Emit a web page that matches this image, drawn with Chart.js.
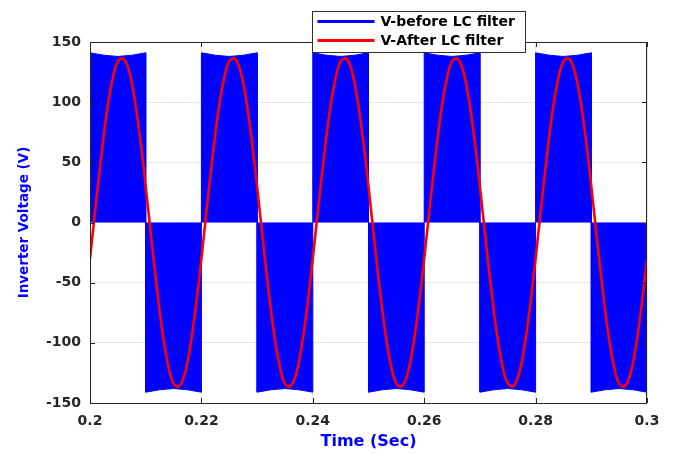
<!DOCTYPE html>
<html>
<head>
<meta charset="utf-8">
<script src="https://cdn.jsdelivr.net/npm/chart.js@4.4.0/dist/chart.umd.min.js"></script>
<style>
    html, body { margin: 0; padding: 0; background: #ffffff; }
    canvas { display: block; }
</style>
</head>
<body>
<canvas id="grafico" width="677" height="453"></canvas>
<script>
// Datos
const serieNombres = ['V-before LC filter', 'V-After LC filter'];

// Envolvente de la señal PWM (antes del filtro): tiempos y valores
const tiempoPWM = [
    0.200, 0.200, 0.2025, 0.205, 0.2075, 0.210,
    0.210, 0.2125, 0.215, 0.2175, 0.220,
    0.220, 0.2225, 0.225, 0.2275, 0.230,
    0.230, 0.2325, 0.235, 0.2375, 0.240,
    0.240, 0.2425, 0.245, 0.2475, 0.250,
    0.250, 0.2525, 0.255, 0.2575, 0.260,
    0.260, 0.2625, 0.265, 0.2675, 0.270,
    0.270, 0.2725, 0.275, 0.2775, 0.280,
    0.280, 0.2825, 0.285, 0.2875, 0.290,
    0.290, 0.2925, 0.295, 0.2975, 0.300, 0.300
];
const voltajePWM = [
    0, 141, 139, 138, 139, 141,
    -141, -139, -138, -139, -141,
    141, 139, 138, 139, 141,
    -141, -139, -138, -139, -141,
    141, 139, 138, 139, 141,
    -141, -139, -138, -139, -141,
    141, 139, 138, 139, 141,
    -141, -139, -138, -139, -141,
    141, 139, 138, 139, 141,
    -141, -139, -138, -139, -141, 0
];

// Tensión después del filtro LC, una muestra cada 1 ms desde 0.2 s
const tiempoInicio = 0.2;
const pasoTiempo = 0.001;
const voltajeFiltrado = [
    -30, 13, 54, 91, 118, 134, 136, 126, 103, 70,
    30, -13, -54, -91, -118, -134, -136, -126, -103, -70,
    -30, 13, 54, 91, 118, 134, 136, 126, 103, 70,
    30, -13, -54, -91, -118, -134, -136, -126, -103, -70,
    -30, 13, 54, 91, 118, 134, 136, 126, 103, 70,
    30, -13, -54, -91, -118, -134, -136, -126, -103, -70,
    -30, 13, 54, 91, 118, 134, 136, 126, 103, 70,
    30, -13, -54, -91, -118, -134, -136, -126, -103, -70,
    -30, 13, 54, 91, 118, 134, 136, 126, 103, 70,
    30, -13, -54, -91, -118, -134, -136, -126, -103, -70,
    -30
];

// Marcas de los ejes
const ticksX = [0.2, 0.22, 0.24, 0.26, 0.28, 0.3];
const etiquetasX = ['0.2', '0.22', '0.24', '0.26', '0.28', '0.3'];
const ticksY = [-150, -100, -50, 0, 50, 100, 150];
const etiquetasY = ['-150', '-100', '-50', '0', '50', '100', '150'];

const puntosPWM = tiempoPWM.map((t, i) => ({ x: t, y: voltajePWM[i] }));
const puntosFiltro = voltajeFiltrado.map((v, i) => ({ x: tiempoInicio + i * pasoTiempo, y: v }));

const colorEje = '#262626';
const fuente = 'DejaVu Sans';

// Caja del gráfico con marcas hacia dentro y leyenda estilo MATLAB
const marcoYLeyenda = {
    id: 'marcoYLeyenda',
    afterDatasetsDraw(chart) {
        const { ctx, chartArea: ca, scales } = chart;
        ctx.save();
        ctx.strokeStyle = colorEje;
        ctx.lineWidth = 1;
        ctx.strokeRect(ca.left + 0.5, ca.top + 0.5, ca.right - ca.left - 1, ca.bottom - ca.top);

        // marcas hacia dentro
        ctx.beginPath();
        ticksX.forEach((v) => {
            const px = Math.round(scales.x.getPixelForValue(v)) + 0.5;
            ctx.moveTo(px, ca.bottom); ctx.lineTo(px, ca.bottom - 5);
            ctx.moveTo(px, ca.top); ctx.lineTo(px, ca.top + 5);
        });
        ticksY.forEach((v) => {
            const py = Math.round(scales.y.getPixelForValue(v)) + 0.5;
            ctx.moveTo(ca.left, py); ctx.lineTo(ca.left + 5, py);
            ctx.moveTo(ca.right, py); ctx.lineTo(ca.right - 5, py);
        });
        ctx.stroke();

        // leyenda
        const bx = 312.5, by = 11.5, bw = 213, bh = 41;
        ctx.fillStyle = '#ffffff';
        ctx.fillRect(bx, by, bw, bh);
        ctx.strokeStyle = '#303030';
        ctx.strokeRect(bx, by, bw, bh);
        ctx.font = 'bold 14px "' + fuente + '"';
        ctx.textBaseline = 'middle';
        chart.data.datasets.forEach((ds, i) => {
            const y = by + 10 + i * 19;
            ctx.strokeStyle = ds.borderColor;
            ctx.lineWidth = 3;
            ctx.beginPath();
            ctx.moveTo(bx + 5, y);
            ctx.lineTo(bx + 62, y);
            ctx.stroke();
            ctx.fillStyle = '#000000';
            ctx.fillText(ds.label, bx + 68, y + 1);
        });
        ctx.restore();
    }
};

const ctxGrafico = document.getElementById('grafico').getContext('2d');
new Chart(ctxGrafico, {
    type: 'scatter',
    data: {
        datasets: [
            {
                label: serieNombres[0],
                data: puntosPWM,
                showLine: true,
                borderColor: '#0000ff',
                backgroundColor: '#0000ff',
                borderWidth: 1,
                fill: 'origin',
                pointRadius: 0,
                tension: 0,
                order: 2,
            },
            {
                label: serieNombres[1],
                data: puntosFiltro,
                showLine: true,
                borderColor: '#ff0000',
                borderWidth: 2.6,
                fill: false,
                pointRadius: 0,
                tension: 0.4,
                order: 1,
            },
        ],
    },
    options: {
        responsive: false,
        animation: false,
        devicePixelRatio: 1,
        layout: { padding: { left: 0, right: 30, top: 42, bottom: 0 } },
        plugins: {
            legend: { display: false },
            tooltip: { enabled: false },
        },
        scales: {
            x: {
                type: 'linear',
                min: 0.2,
                max: 0.3,
                afterFit: (scale) => { scale.height = 50; },
                afterBuildTicks: (scale) => { scale.ticks = ticksX.map((v) => ({ value: v })); },
                ticks: {
                    callback: (value, index) => etiquetasX[index],
                    color: colorEje,
                    font: { family: fuente, size: 14, weight: 'bold' },
                    padding: 10,
                    maxRotation: 0,
                },
                grid: { color: '#e6e6e6', drawTicks: false },
                border: { display: false },
                title: {
                    display: true,
                    text: 'Time (Sec)',
                    color: '#0000ff',
                    font: { family: fuente, size: 16, weight: 'bold' },
                    padding: { top: 0, bottom: 2 },
                },
            },
            y: {
                type: 'linear',
                min: -150,
                max: 150,
                afterFit: (scale) => { scale.width = 90; },
                afterBuildTicks: (scale) => { scale.ticks = ticksY.map((v) => ({ value: v })); },
                ticks: {
                    callback: (value, index) => etiquetasY[index],
                    color: colorEje,
                    font: { family: fuente, size: 14, weight: 'bold' },
                    padding: 9,
                },
                grid: { color: '#e6e6e6', drawTicks: false },
                border: { display: false },
                title: {
                    display: true,
                    text: 'Inverter Voltage (V)',
                    color: '#0000ff',
                    font: { family: fuente, size: 13.5, weight: 'bold' },
                    padding: { top: 16, bottom: 0 },
                },
            },
        },
    },
    plugins: [marcoYLeyenda],
});
</script>
</body>
</html>
